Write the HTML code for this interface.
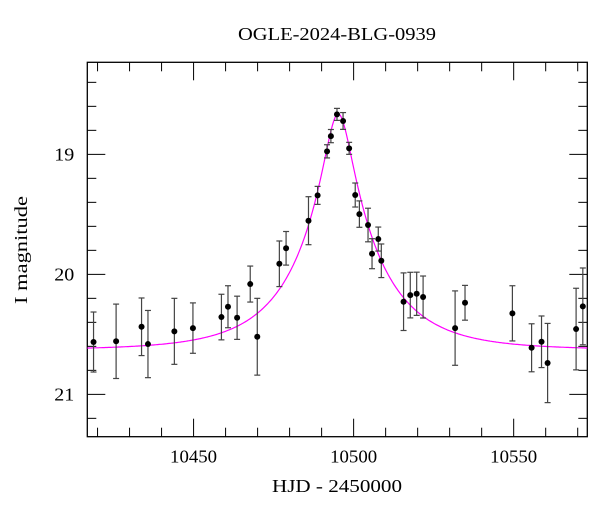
<!DOCTYPE html>
<html><head><meta charset="utf-8"><style>
body{margin:0;background:#fff}
text{font-family:"Liberation Serif",serif;fill:#000}
</style></head><body>
<svg id="chart" width="600" height="512" viewBox="0 0 600 512" xmlns="http://www.w3.org/2000/svg">
<text x="337" y="40" font-size="18" text-anchor="middle" textLength="198" lengthAdjust="spacingAndGlyphs">OGLE-2024-BLG-0939</text>
<text x="337" y="492" font-size="18" text-anchor="middle" textLength="130" lengthAdjust="spacingAndGlyphs">HJD - 2450000</text>
<text transform="translate(27,250) rotate(-90)" font-size="18" text-anchor="middle" textLength="108" lengthAdjust="spacingAndGlyphs">I magnitude</text>
<g id="axes"></g>
<g id="model"></g>
<g id="pts"></g>
</svg>
<script>
const times=[10418.75,10425.8,10433.75,10435.75,10444.0,10449.8,10458.7,10460.75,10463.6,10467.7,10469.9,10476.8,10478.9,10485.9,10488.75,10491.7,10492.9,10494.8,10496.7,10498.6,10500.5,10501.8,10504.5,10505.75,10507.7,10508.65,10515.6,10517.7,10519.7,10521.7,10531.7,10534.8,10549.6,10555.6,10558.7,10560.6,10569.5,10571.6];
const mags=[20.564,20.558,20.437,20.581,20.475,20.448,20.356,20.27,20.362,20.081,20.52,19.912,19.783,19.553,19.342,18.975,18.848,18.667,18.722,18.95,19.339,19.498,19.589,19.828,19.706,19.887,20.228,20.173,20.162,20.189,20.448,20.237,20.325,20.612,20.562,20.739,20.456,20.267];
const errs=[0.25,0.31,0.24,0.28,0.275,0.21,0.19,0.175,0.18,0.15,0.32,0.19,0.14,0.2,0.075,0.055,0.055,0.05,0.07,0.05,0.1,0.11,0.14,0.125,0.1,0.14,0.24,0.19,0.18,0.175,0.31,0.145,0.23,0.2,0.215,0.33,0.34,0.32];
const xTicks=[10450,10500,10550];
const yTicks=[19,20,21];
const modelParams={t0:10495.2,u0:0.165,tE:25,base:20.63};

const NS="http://www.w3.org/2000/svg";
const L=87.3,R=587.3,T=62.3,B=436.7;
const xMin=10416.8,xMax=10573.0,yMin=18.233,yMax=21.353;
const X=v=>L+(v-xMin)/(xMax-xMin)*(R-L);
const Y=v=>T+(v-yMin)/(yMax-yMin)*(B-T);
function mk(tag,attrs,parent){const e=document.createElementNS(NS,tag);for(const k in attrs)e.setAttribute(k,attrs[k]);parent.appendChild(e);return e;}
const axes=document.getElementById('axes');
const frame=mk('rect',{x:L,y:T,width:R-L,height:B-T,fill:'none',stroke:'#000','stroke-width':1.3},axes);


for(let v=10420;v<=10570;v+=10){
  const major=xTicks.includes(v);const len=major?18:9;const x=X(v);
  const t1=mk('line',{x1:x,x2:x,y1:B,y2:B-len,stroke:'#000','stroke-width':1},axes);
  
  
  const t2=mk('line',{x1:x,x2:x,y1:T,y2:T+len,stroke:'#000','stroke-width':1},axes);
  
  
}
xTicks.forEach(v=>{const t=mk('text',{x:X(v),y:B+26,'font-size':18,'text-anchor':'middle',textLength:47,lengthAdjust:'spacingAndGlyphs'},axes);t.textContent=v;
  
  });
for(let i=0;i<=16;i++){
  const v=18.4+i*0.2; if(v>yMax)break; const major=yTicks.some(t=>Math.abs(t-v)<1e-6);const len=major?18:9;const y=Y(v);
  const t1=mk('line',{x1:L,x2:L+len,y1:y,y2:y,stroke:'#000','stroke-width':1},axes);
  
  
  const t2=mk('line',{x1:R,x2:R-len,y1:y,y2:y,stroke:'#000','stroke-width':1},axes);
  
  
}
yTicks.forEach(v=>{const t=mk('text',{x:L-13,y:Y(v)+6,'font-size':18,'text-anchor':'end',textLength:20,lengthAdjust:'spacingAndGlyphs'},axes);t.textContent=v;
  
  });
const p=modelParams;let d='';
for(let px=L;px<=R;px+=1){const t=xMin+(px-L)/(R-L)*(xMax-xMin);const tau=(t-p.t0)/p.tE;const u=Math.sqrt(p.u0*p.u0+tau*tau);
  const A=(u*u+2)/(u*Math.sqrt(u*u+4));const m=p.base-2.5*Math.log10(A);d+=(d?'L':'M')+px.toFixed(1)+','+Y(m).toFixed(1);}
const model=mk('path',{d:d,fill:'none',stroke:'#ff00ff','stroke-width':1.2},document.getElementById('model'));


const pts=document.getElementById('pts');
times.forEach((t,i)=>{const x=X(t),y=Y(mags[i]),y1=Y(mags[i]-errs[i]),y2=Y(mags[i]+errs[i]);
  const g=mk('g',{stroke:'#444','stroke-width':1.2},pts);
  
  
  mk('line',{x1:x,x2:x,y1:y1,y2:y2},g);
  mk('line',{x1:x-3,x2:x+3,y1:y1,y2:y1},g);
  mk('line',{x1:x-3,x2:x+3,y1:y2,y2:y2},g);
  mk('circle',{cx:x,cy:y,r:3,fill:'#000',stroke:'none'},g);
});
</script>
</body></html>
